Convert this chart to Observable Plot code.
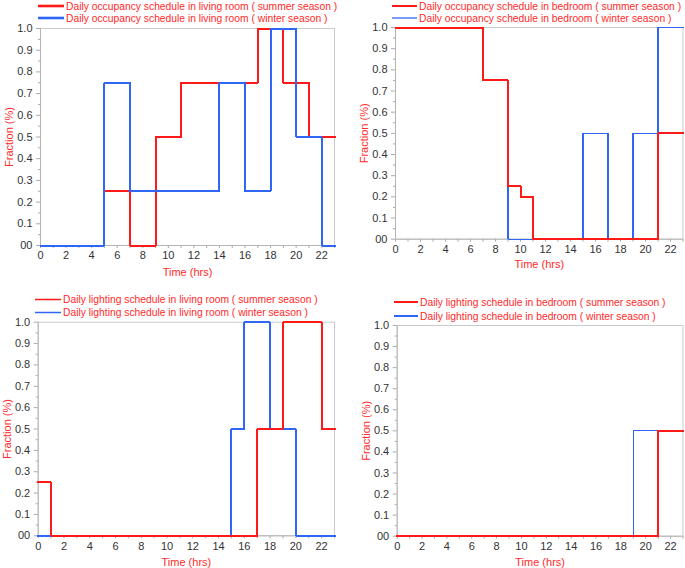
<!DOCTYPE html>
<html>
<head>
<meta charset="utf-8">
<script src="https://cdn.jsdelivr.net/npm/d3@7"></script>
<script src="https://cdn.jsdelivr.net/npm/@observablehq/plot@0.6"></script>
<style>
  html, body { margin: 0; padding: 0; background: #fff; }
  #wrap { position: relative; width: 685px; height: 568px; overflow: hidden; font-family: "Liberation Sans", Arial, sans-serif; }
  .panel { position: absolute; }
  .panel svg { display: block; }
  .legend { position: absolute; font-size: 10.3px; color: #ff2a2a; white-space: nowrap; }
  .legend .row { display: flex; align-items: center; }
  .legend .row svg { display: block; margin-right: 2px; flex: none; }
  .legend .row span { flex: none; }
  g[aria-label="y-axis label"] text, g[aria-label="x-axis label"] text { fill: #ff2a2a; }
</style>
</head>
<body>
<div id="wrap"></div>
<script>
// ---------- data ----------
const hours = [0,1,2,3,4,5,6,7,8,9,10,11,12,13,14,15,16,17,18,19,20,21,22,23];

const livingOccSummer = [0,0,0,0,0,0.25,0.25,0,0,0.5,0.5,0.75,0.75,0.75,0.75,0.75,0.75,1,1,0.75,0.75,0.5,0.5,0.5];
const livingOccWinter = [0,0,0,0,0,0.75,0.75,0.25,0.25,0.25,0.25,0.25,0.25,0.25,0.75,0.75,0.25,0.25,1,1,0.5,0.5,0,0];

const bedOccSummer = [1,1,1,1,1,1,1,0.75,0.75,0.25,0.2,0,0,0,0,0,0,0,0,0,0,0.5,0.5,0.5];
const bedOccWinter = [1,1,1,1,1,1,1,0.75,0.75,0,0,0,0,0,0,0.5,0.5,0,0,0.5,0.5,1,1,1];

const livingLightSummer = [0.25,0,0,0,0,0,0,0,0,0,0,0,0,0,0,0,0,0.5,0.5,1,1,1,0.5,0.5];
const livingLightWinter = [0,0,0,0,0,0,0,0,0,0,0,0,0,0,0,0.5,1,1,0.5,0.5,0,0,0,0];

const bedLightSummer = [0,0,0,0,0,0,0,0,0,0,0,0,0,0,0,0,0,0,0,0,0,0.5,0.5,0.5];
const bedLightWinter = [0,0,0,0,0,0,0,0,0,0,0,0,0,0,0,0,0,0,0,0.5,0.5,0.5,0.5,0.5];

const xTicks = [0,2,4,6,8,10,12,14,16,18,20,22];
const xMinorTicks = [1,3,5,7,9,11,13,15,17,19,21,23];
const yTicks = [0,0.1,0.2,0.3,0.4,0.5,0.6,0.7,0.8,0.9,1.0];
const yMinorTicks = [0.05,0.15,0.25,0.35,0.45,0.55,0.65,0.75,0.85,0.95];

const legendLivingOcc = ["Daily occupancy schedule in living room ( summer season )", "Daily occupancy schedule in living room ( winter season )"];
const legendBedOcc = ["Daily occupancy schedule in bedroom ( summer season )", "Daily occupancy schedule in bedroom ( winter season )"];
const legendLivingLight = ["Daily lighting schedule in living room ( summer season )", "Daily lighting schedule in living room ( winter season )"];
const legendBedLight = ["Daily lighting schedule in bedroom ( summer season )", "Daily lighting schedule in bedroom ( winter season )"];

const xLabel = "Time (hrs)";
const yLabel = "Fraction (%)";

// ---------- style ----------
const RED = "#ff1a1a";
const BLUE = "#2f66f5";
const FONT = '"Liberation Sans", Arial, sans-serif';

function rows(values) { return hours.map((h, i) => ({hour: h, value: values[i]})); }

function makePanel(p) {
  const wrap = document.getElementById("wrap");
  const lines = p.series.map(s => Plot.line(rows(s.values), {
    x: "hour", y: "value", curve: "step-after",
    stroke: s.color, strokeWidth: s.width, strokeLinejoin: "miter", strokeLinecap: "square",
    shapeRendering: "crispEdges"
  }));
  const chart = Plot.plot({
    width: p.w, height: p.h,
    marginLeft: p.ml, marginRight: p.mr, marginTop: p.mt, marginBottom: p.mb,
    style: {fontFamily: FONT, fontSize: "11px", background: "transparent", overflow: "visible"},
    x: {domain: [0, 23]},
    y: {domain: [0, 1]},
    marks: [
      Plot.frame({stroke: "#cccccc"}),
      Plot.axisX(xMinorTicks, {tickSize: 3, stroke: "#aaaaaa", tickFormat: () => "", label: null}),
      Plot.axisY(yMinorTicks, {tickSize: 2, stroke: "#aaaaaa", tickFormat: () => "", label: null}),
      Plot.axisX(xTicks, {tickSize: 3, tickPadding: 3, stroke: "#aaaaaa", fill: "#333333",
        label: xLabel, labelAnchor: "center", labelOffset: p.xlo, labelArrow: "none"}),
      Plot.axisY(yTicks, {tickSize: 4, tickPadding: 4, stroke: "#aaaaaa", fill: "#333333",
        tickFormat: d => d === 0 ? "00" : d.toFixed(1),
        label: yLabel, labelAnchor: "center", labelOffset: 35, labelArrow: "none"}),
      Plot.ruleX([0], {stroke: "#b4b4b4"}),
      Plot.ruleY([0], {stroke: "#b4b4b4"}),
      ...lines
    ]
  });
  const div = document.createElement("div");
  div.className = "panel";
  div.style.left = p.left + "px";
  div.style.top = p.top + "px";
  div.style.width = p.w + "px";
  div.style.height = p.h + "px";
  div.appendChild(chart);
  wrap.appendChild(div);

  // legend (HTML, drawn over the top margin)
  const lg = document.createElement("div");
  lg.className = "legend";
  lg.style.left = p.legend.left + "px";
  lg.style.top = p.legend.top + "px";
  p.legend.labels.forEach((txt, i) => {
    const s = p.series[p.legend.order[i]];
    const row = document.createElement("div");
    row.className = "row";
    row.style.height = p.legend.rowH + "px";
    row.innerHTML = `<svg width="${p.legend.sw}" height="${p.legend.rowH}"><line x1="0" x2="${p.legend.sw}" y1="${p.legend.rowH/2}" y2="${p.legend.rowH/2}" stroke="${s.color}" stroke-width="${s.lw}"/></svg><span></span>`;
    row.querySelector("span").textContent = txt;
    lg.appendChild(row);
  });
  wrap.appendChild(lg);
}

// Panel 1: occupancy, living room (red under blue)
makePanel({
  left: 0, top: 0, w: 345, h: 285, ml: 40, mr: 11, mt: 28, mb: 40, xlo: 30,
  series: [
    {values: livingOccSummer, color: RED, width: 2, lw: 2.6},
    {values: livingOccWinter, color: BLUE, width: 2, lw: 2.6}
  ],
  legend: {left: 38, top: 0, rowH: 12, sw: 26, labels: legendLivingOcc, order: [0, 1]}
});

// Panel 2: occupancy, bedroom (blue under red)
makePanel({
  left: 345, top: 0, w: 340, h: 285, ml: 50, mr: 2.5, mt: 27, mb: 46.3, xlo: 29,
  series: [
    {values: bedOccWinter, color: BLUE, width: 1.2, lw: 1.3},
    {values: bedOccSummer, color: RED, width: 2, lw: 2}
  ],
  legend: {left: 392, top: 0, rowH: 12, sw: 25, labels: legendBedOcc, order: [1, 0]}
});

// Panel 3: lighting, living room (blue under red)
makePanel({
  left: 0, top: 285, w: 345, h: 283, ml: 37.7, mr: 11, mt: 36.7, mb: 32.7, xlo: 30,
  series: [
    {values: livingLightWinter, color: BLUE, width: 2, lw: 1.5},
    {values: livingLightSummer, color: RED, width: 2, lw: 1.5}
  ],
  legend: {left: 35, top: 292.5, rowH: 13, sw: 26, labels: legendLivingLight, order: [1, 0]}
});

// Panel 4: lighting, bedroom (blue under red)
makePanel({
  left: 345, top: 285, w: 340, h: 283, ml: 51.7, mr: 2.5, mt: 40, mb: 32.3, xlo: 30,
  series: [
    {values: bedLightWinter, color: BLUE, width: 1.2, lw: 2},
    {values: bedLightSummer, color: RED, width: 2, lw: 2}
  ],
  legend: {left: 394, top: 295, rowH: 14, sw: 24, labels: legendBedLight, order: [1, 0]}
});
</script>
</body>
</html>
